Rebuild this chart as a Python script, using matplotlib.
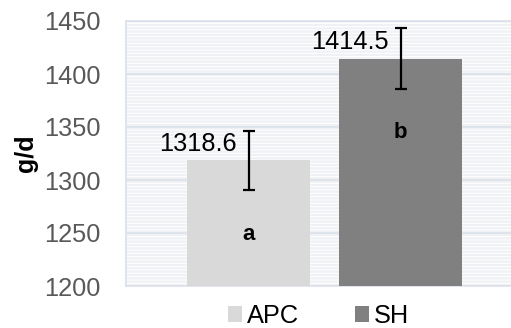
import matplotlib.pyplot as plt
from matplotlib.patches import Patch

plt.rcParams['font.family'] = ['Liberation Sans', 'DejaVu Sans']
plt.rcParams['hatch.linewidth'] = 1.6

groups = ['APC', 'SH']
means = [1318.6, 1414.5]
errs = [28, 28.5]
letters = ['a', 'b']
colors = ['#d9d9d9', '#808080']
yticks = [1200, 1250, 1300, 1350, 1400, 1450]

fig = plt.figure(figsize=(5.11, 3.28), dpi=100)
ax = fig.add_axes([126/511, 1-286/328, 385/511, 265/328])

# striped background like the excel pattern fill
ax.patch.set_facecolor('white')
ax.patch.set_edgecolor('#eff1f5')
ax.patch.set_linewidth(0)
ax.patch.set_hatch('-----')

xs = [0, 1]
ax.bar(xs, [m - 1200 for m in means], bottom=1200, width=0.81, color=colors, zorder=3)
ax.errorbar(xs, means, yerr=errs, fmt='none', ecolor='black', elinewidth=1.6,
            capsize=4, capthick=1.6, zorder=4)

for x, m, e, l in zip(xs, means, errs, letters):
    ax.annotate(f'{m:.1f}', xy=(x, m + e), xytext=(-8.5, -14.5), textcoords='offset points',
                ha='right', va='baseline', fontsize=18.3, color='black')
    ax.text(x, m - 75, l, ha='center', va='baseline', fontsize=16, fontweight='bold')

ax.set_ylim(1200, 1450)
ax.set_xlim(-0.806, 1.727)
ax.set_yticks(yticks)
ax.set_xticks([])
ax.tick_params(axis='y', length=0, pad=18, labelsize=18.3, labelcolor='#595959')
ax.grid(axis='y', color='#dde2ea', linewidth=1.3, zorder=1)
ax.set_axisbelow(True)
for s in ['left', 'top', 'bottom']:
    ax.spines[s].set_color('#dde2ea')
    ax.spines[s].set_linewidth(1.3)
ax.spines['right'].set_visible(False)

ax.set_ylabel('g/d', fontsize=18, fontweight='bold')
ax.yaxis.set_label_coords(-0.229, 0.5)

handles = [Patch(facecolor=c, label=g) for c, g in zip(colors, groups)]
fig.legend(handles=handles, loc='center', bbox_to_anchor=(318.5/511, 1-316/328), ncol=2,
           frameon=False, fontsize=18.3, handlelength=0.55, handleheight=0.55,
           handletextpad=0.2, columnspacing=2.2, borderaxespad=0)

fig.savefig('out.png', dpi=100)
